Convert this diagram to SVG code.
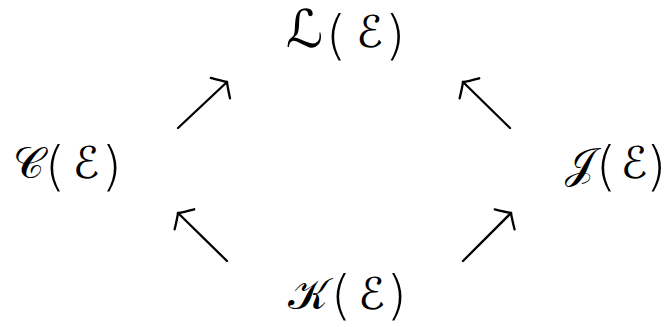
<svg xmlns="http://www.w3.org/2000/svg" width="668" height="327" viewBox="0 0 668 327">
<style>
text{font-family:"DejaVu Sans","Noto Sans",sans-serif;font-size:44px;fill:#000;text-anchor:middle}
.p{font-family:"DejaVu Sans","Inter",sans-serif;font-size:53px;font-weight:200}
.s{font-size:43px}
.l{font-size:52px}
.c{fill:none;stroke:#000;stroke-width:2.3;stroke-linecap:round}
</style>
<defs>
<marker id="h" markerUnits="userSpaceOnUse" viewBox="-12 -16 16 32" refX="0" refY="0" markerWidth="16" markerHeight="32" orient="auto" overflow="visible">
<path d="M -9 -14 Q -3 -4 0 0 Q -3 4 -9 14" fill="none" stroke="#000" stroke-width="2.3" stroke-linecap="round"/>
</marker>
</defs>
<g id="L"><text><tspan class="l" x="304.5" y="47">ℒ</tspan><tspan class="p" x="336" y="54">(</tspan><tspan x="369.5" y="47">ℰ</tspan><tspan class="p" x="395" y="54">)</tspan></text></g>
<g id="C"><text><tspan class="s" x="28" y="178">𝒞</tspan><tspan class="p" x="55" y="185">(</tspan><tspan x="86" y="178">ℰ</tspan><tspan class="p" x="111.5" y="185">)</tspan></text></g>
<g id="J"><text><tspan class="s" x="580" y="178">𝒥</tspan><tspan class="p" x="606" y="185">(</tspan><tspan x="634" y="178">ℰ</tspan><tspan class="p" x="656" y="185">)</tspan></text></g>
<g id="K"><text><tspan class="s" x="308" y="309">𝒦</tspan><tspan class="p" x="341" y="314">(</tspan><tspan x="371.5" y="309">ℰ</tspan><tspan class="p" x="396.5" y="314">)</tspan></text></g>
<g id="connectors">
<path class="c" d="M178 128 L227 82" marker-end="url(#h)"/>
<path class="c" d="M510 128 L463 82" marker-end="url(#h)"/>
<path class="c" d="M227 261 L178 213" marker-end="url(#h)"/>
<path class="c" d="M463 261 L511 213" marker-end="url(#h)"/>
</g>
</svg>
